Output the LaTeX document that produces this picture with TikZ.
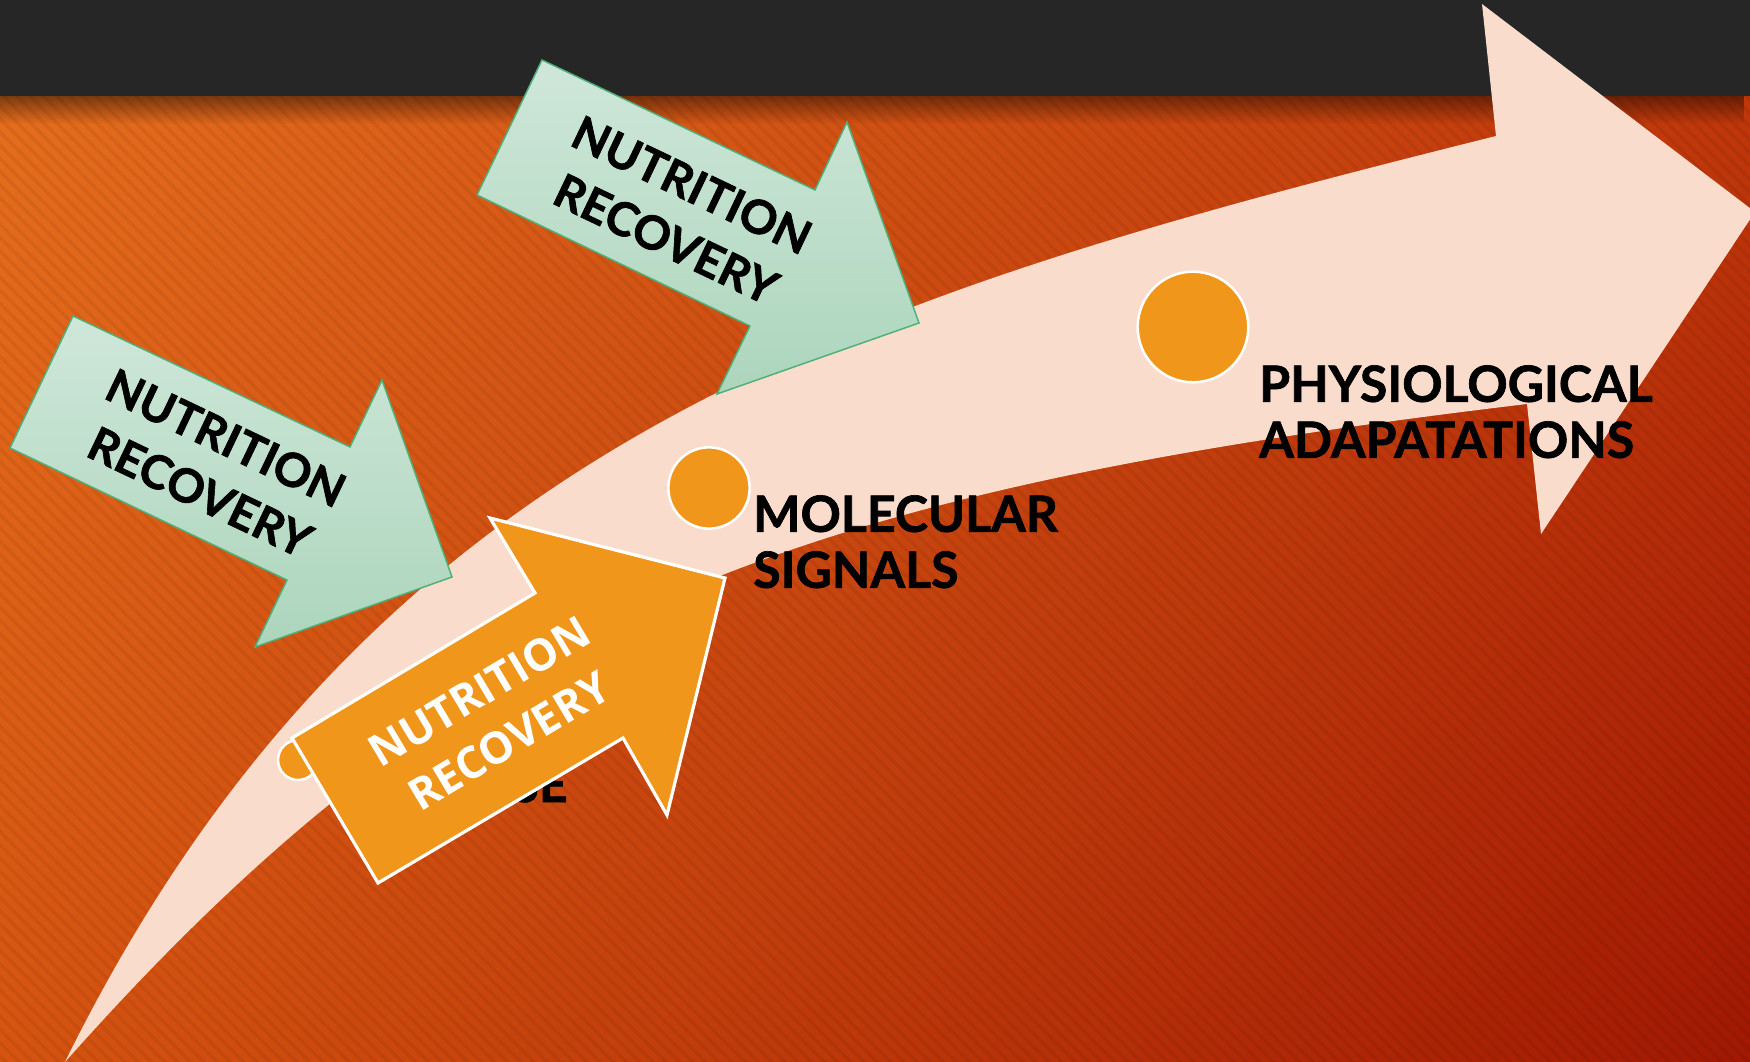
\documentclass[tikz,border=0pt]{standalone}
\usepackage{fontspec}
\setmainfont{Lato}[BoldFeatures={FakeBold=1.3}]
\newfontfamily\captionfont{Open Sans}
\usetikzlibrary{fadings}
\usetikzlibrary{shadings}
\usetikzlibrary{patterns.meta}
\usepackage{xcolor}
\definecolor{barcol}{HTML}{262626}
\definecolor{peach}{HTML}{F9DCCC}
\definecolor{dotorange}{HTML}{F0961A}
\definecolor{minttop}{HTML}{CFE7D9}
\definecolor{mintbot}{HTML}{ACD5BC}
\definecolor{mintline}{HTML}{4DB07B}
\definecolor{bgtl}{HTML}{E6701F}
\definecolor{bgtr}{HTML}{C23A0B}
\definecolor{bgbl}{HTML}{D65410}
\definecolor{bgbr}{HTML}{A11803}

\tikzfading[name=fadedown, top color=transparent!0, bottom color=transparent!100]

\tikzset{
  stepdot/.style={circle, fill=dotorange, draw=white, line width=1.9pt, inner sep=0pt},
  steplabel/.style={font=\bfseries\fontsize{37.5}{42}\selectfont, align=left, inner sep=0pt, anchor=north west, text=black},
  greenarrow/.style={top color=minttop, bottom color=mintbot, draw=mintline, line width=1.1pt},
  greentext/.style={font=\bfseries\fontsize{35}{45}\selectfont, align=center, inner sep=0pt, text=black},
  orangearrow/.style={fill=dotorange, draw=white, line width=2.4pt},
  orangetext/.style={font=\captionfont\bfseries\fontsize{33}{43.5}\selectfont, align=center, inner sep=0pt, text=white},
}

\begin{document}
\begin{tikzpicture}[x=0.75pt,y=0.75pt,yscale=-1,xscale=1]
\useasboundingbox (0,0) rectangle (1750,1062);

%Background
\shade [upper left=bgtl, upper right=bgtr, lower left=bgbl, lower right=bgbr] (0,0) rectangle (1750,1062);
\begin{scope}[transparency group, opacity=0.06]
\fill [pattern={Lines[angle=-45,distance=7pt,line width=2.5pt]}, pattern color=black] (0,96) rectangle (1750,1062);
\end{scope}
%Top bar
\fill [barcol] (0,0) rectangle (1750,96);
\fill [black, fill opacity=0.45, path fading=fadedown] (0,96) rectangle (1750,124);

%Shape: Curved arrow
\fill [peach] (65,1062) .. controls (375,434) and (865,294) .. (1496,136)
  -- (1482,4) -- (1755,212) -- (1541,534) -- (1527,404)
  .. controls (782,493) and (463,614) .. (65,1062) -- cycle;

%Circles
\node [stepdot, minimum size=30pt] (dotone) at (298,760) {};
\node [stepdot, minimum size=61pt] (dottwo) at (709,488) {};
\node [stepdot, minimum size=83pt] (dotthree) at (1193,327) {};

% Text Node
\node [steplabel, anchor=base east] (lblzero) at (568,802) {SE};
% Text Node
\node [steplabel] (lblone) at (753,495) {MOLECULAR\\SIGNALS};
% Text Node
\node [steplabel] (lbltwo) at (1259,365) {PHYSIOLOGICAL\\ADAPATATIONS};

%Shape: Right Arrow (upper)
\draw [greenarrow] (542,60) -- (815,190) -- (847,122) -- (919,323) -- (717,394) -- (750,326) -- (477,195) -- cycle;
\node [greentext, rotate=-25.5] (recup) at (679,212) {NUTRITION\\RECOVERY};

%Shape: Right Arrow (left)
\draw [greenarrow] (73,316) -- (350,447) -- (382,380) -- (452,577) -- (255,647) -- (287,580) -- (10,448) -- cycle;
\node [greentext, rotate=-25.5] (recleft) at (213,465) {NUTRITION\\RECOVERY};

%Shape: Right Arrow (orange)
\draw [orangearrow] (292,738) -- (535,593) -- (490,518) -- (725,578) -- (667,815) -- (623,738) -- (378,883) -- cycle;
\node [orangetext, rotate=30.8] (reclow) at (494,716) {NUTRITION\\RECOVERY};

\end{tikzpicture}
\end{document}
